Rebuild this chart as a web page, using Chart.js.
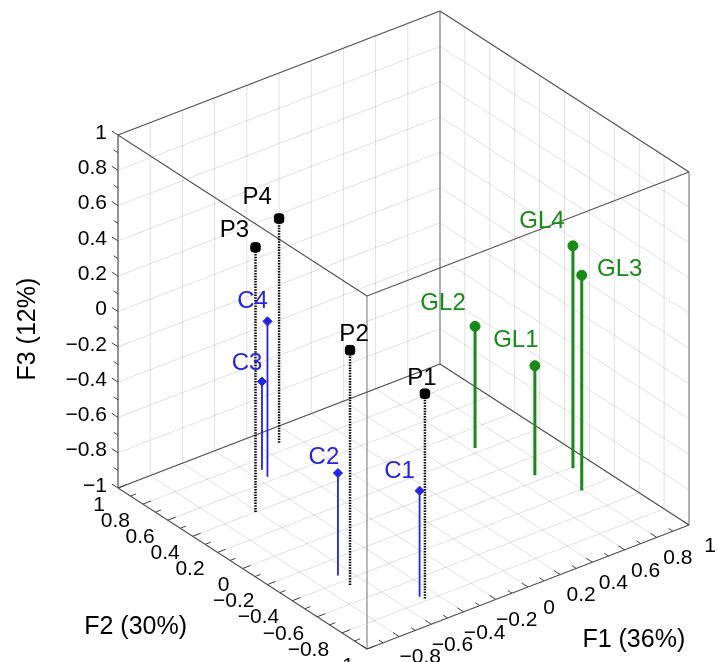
<!DOCTYPE html>
<html>
<head>
<meta charset="utf-8">
<script src="https://cdn.jsdelivr.net/npm/chart.js@4.4.0/dist/chart.umd.min.js"></script>
<style>
html, body { margin: 0; padding: 0; background: #fff; overflow: hidden; }
#wrap { width: 717px; height: 662px; position: relative; }
</style>
</head>
<body>
<div id="wrap"><canvas id="chart"></canvas></div>
<script>
// sample scores on the three factors
const pNames = ["P1", "P2", "P3", "P4"];
const pF1 = [-0.47, -0.68, -0.61, -0.10];
const pF2 = [-0.78, -0.45, 0.40, 0.87];
const pF3 = [0.16, 0.33, 0.50, 0.27];

const cNames = ["C1", "C2", "C3", "C4"];
const cF1 = [-0.48, -0.67, -0.33, -0.35];
const cF2 = [-0.75, -0.34, 0.71, 0.64];
const cF3 = [-0.40, -0.42, -0.50, -0.12];

const glNames = ["GL1", "GL2", "GL3", "GL4"];
const glF1 = [0.70, 0.63, 0.79, 0.89];
const glF2 = [-0.15, 0.24, -0.41, -0.21];
const glF3 = [-0.38, -0.31, 0.22, 0.26];

const tickValues = [-1, -0.8, -0.6, -0.4, -0.2, 0, 0.2, 0.4, 0.6, 0.8, 1];
const minorTickValues = [-0.9, -0.7, -0.5, -0.3, -0.1, 0.1, 0.3, 0.5, 0.7, 0.9];
const axisTitles = ["F1 (36%)", "F2 (30%)", "F3 (12%)"];

// label placement next to each marker (pixels)
const pShift = [[-3, -15], [4, -16], [-21, -17], [-22, -21]];
const cShift = [[-20, -19], [-14, -16], [-15, -18], [-15, -20]];
const glShift = [[-19, -25], [-32, -23], [38, -6], [-31, -24]];

const FONT = '"Liberation Sans", Arial, Helvetica, sans-serif';
const BLACK = "#000000";
const BLUE = "#2424e2";
const GREEN = "#178a17";

// orthographic view of the cube [-1,1]^3
const view = { ox: 367, oy: 649, e1: [161, -62], e2: [-124.5, -80.5], e3: [0, -176.5] };
const project = (f1, f2, f3) => {
    const a = f1 + 1, b = f2 + 1, c = f3 + 1;
    return {
        x: view.ox + a * view.e1[0] + b * view.e2[0] + c * view.e3[0],
        y: view.oy + a * view.e1[1] + b * view.e2[1] + c * view.e3[1],
    };
};
const gap = { x: NaN, y: NaN };
const seg = (arr, p, q) => arr.push(project(...p), project(...q), gap);

// grid on the two back walls and the floor
const gridData = [];
tickValues.forEach((t) => {
    seg(gridData, [t, -1, -1], [t, 1, -1]);
    seg(gridData, [-1, t, -1], [1, t, -1]);
    seg(gridData, [t, 1, -1], [t, 1, 1]);
    seg(gridData, [-1, 1, t], [1, 1, t]);
    seg(gridData, [1, t, -1], [1, t, 1]);
    seg(gridData, [1, -1, t], [1, 1, t]);
});

// box edges
const edgeData = [];
[
    [[-1, 1, 1], [1, 1, 1]], [[1, 1, 1], [1, -1, 1]], [[-1, 1, 1], [-1, -1, 1]], [[-1, -1, 1], [1, -1, 1]],
    [[-1, 1, -1], [1, 1, -1]], [[1, 1, -1], [1, -1, -1]], [[-1, 1, -1], [-1, -1, -1]], [[-1, -1, -1], [1, -1, -1]],
    [[-1, 1, -1], [-1, 1, 1]],
].forEach(([p, q]) => seg(edgeData, p, q));
const sideEdgeData = [];
[
    [[-1, -1, -1], [-1, -1, 1]], [[1, 1, -1], [1, 1, 1]], [[1, -1, -1], [1, -1, 1]],
].forEach(([p, q]) => seg(sideEdgeData, p, q));

// tick marks
const tickData = [];
const addTicks = (vals, len) => vals.forEach((t) => {
    seg(tickData, [-1, 1, t], [-1, 1 + len, t]);
    seg(tickData, [-1, t, -1], [-1 + len, t, -1]);
    seg(tickData, [t, -1, -1], [t, -1 + len, -1]);
});
addTicks(tickValues, 0.05);
addTicks(minorTickValues, 0.035);

const stems = (f1, f2, f3) => {
    const out = [];
    f1.forEach((v, i) => seg(out, [v, f2[i], -1], [v, f2[i], f3[i]]));
    return out;
};
const tops = (f1, f2, f3) => f1.map((v, i) => project(v, f2[i], f3[i]));

const lineSet = (data, color, width, order, dash) => ({
    data, showLine: true, pointRadius: 0, borderColor: color, borderWidth: width,
    borderDash: dash || [], order, spanGaps: false, fill: false,
});
const markSet = (data, color, style, radius) => ({
    data, showLine: false, pointStyle: style, pointRadius: radius,
    backgroundColor: color, borderColor: color, borderWidth: 1, order: 0,
});

const fmt = (t) => (t < 0 ? "\u2212" : "") + String(Math.abs(t));

const textPlugin = {
    id: "text3d",
    afterDatasetsDraw(chart) {
        const ctx = chart.ctx;
        const sx = chart.scales.x, sy = chart.scales.y;
        const at = (p) => ({ x: sx.getPixelForValue(p.x), y: sy.getPixelForValue(p.y) });
        ctx.save();
        ctx.fillStyle = BLACK;
        ctx.font = "21px " + FONT;
        ctx.textBaseline = "middle";
        tickValues.forEach((t) => {
            let p = at(project(-1, 1, t));
            ctx.textAlign = "right";
            ctx.fillText(fmt(t), p.x - 11, p.y - 2);
            p = at(project(-1, t, -1));
            ctx.fillText(fmt(t), p.x - 13, p.y + 17);
            p = at(project(t, -1, -1));
            ctx.textAlign = "center";
            ctx.fillText(fmt(t), p.x + 21, p.y + 21);
        });

        ctx.font = "25px " + FONT;
        ctx.textAlign = "center";
        const f1t = at(project(0.62, -1, -1));
        ctx.fillText(axisTitles[0], f1t.x + 6, f1t.y + 92);
        const f2t = at(project(-1, 0.2, -1));
        ctx.fillText(axisTitles[1], f2t.x - 82, f2t.y + 75);
        const f3t = at(project(-1, 1, -0.1));
        ctx.save();
        ctx.translate(f3t.x - 90, f3t.y);
        ctx.rotate(-Math.PI / 2);
        ctx.fillText(axisTitles[2], 0, 0);
        ctx.restore();

        ctx.font = "24px " + FONT;
        const names = (list, f1, f2, f3, shift, color) => {
            ctx.fillStyle = color;
            list.forEach((n, i) => {
                const p = at(project(f1[i], f2[i], f3[i]));
                ctx.fillText(n, p.x + shift[i][0], p.y + shift[i][1]);
            });
        };
        names(pNames, pF1, pF2, pF3, pShift, BLACK);
        names(cNames, cF1, cF2, cF3, cShift, BLUE);
        names(glNames, glF1, glF2, glF3, glShift, GREEN);
        ctx.restore();
    },
};

const ctx = document.getElementById("chart").getContext("2d");
const chart = new Chart(ctx, {
    type: "scatter",
    data: {
        datasets: [
            lineSet(gridData, "rgba(0,0,0,0.12)", 1, 10),
            lineSet(sideEdgeData, "#8a8a8a", 1.2, 9),
            lineSet(edgeData, "#555555", 1.2, 8),
            lineSet(tickData, "#444444", 1, 7),
            lineSet(stems(glF1, glF2, glF3), GREEN, 3, 5),
            lineSet(stems(cF1, cF2, cF3), BLUE, 1.8, 4),
            lineSet(stems(pF1, pF2, pF3), BLACK, 2.5, 3, [1.5, 1.2]),
            markSet(tops(glF1, glF2, glF3), GREEN, "circle", 5),
            markSet(tops(cF1, cF2, cF3), BLUE, "rectRot", 4.6),
            markSet(tops(pF1, pF2, pF3), BLACK, "rectRounded", 5.5),
        ],
    },
    options: {
        responsive: true,
        maintainAspectRatio: false,
        animation: false,
        layout: { padding: 0, autoPadding: false },
        scales: {
            x: { type: "linear", display: false, min: 0, max: 717 },
            y: { type: "linear", display: false, min: 0, max: 662, reverse: true },
        },
        plugins: {
            legend: { display: false },
            tooltip: { enabled: false },
        },
    },
    plugins: [textPlugin],
});
</script>
</body>
</html>
